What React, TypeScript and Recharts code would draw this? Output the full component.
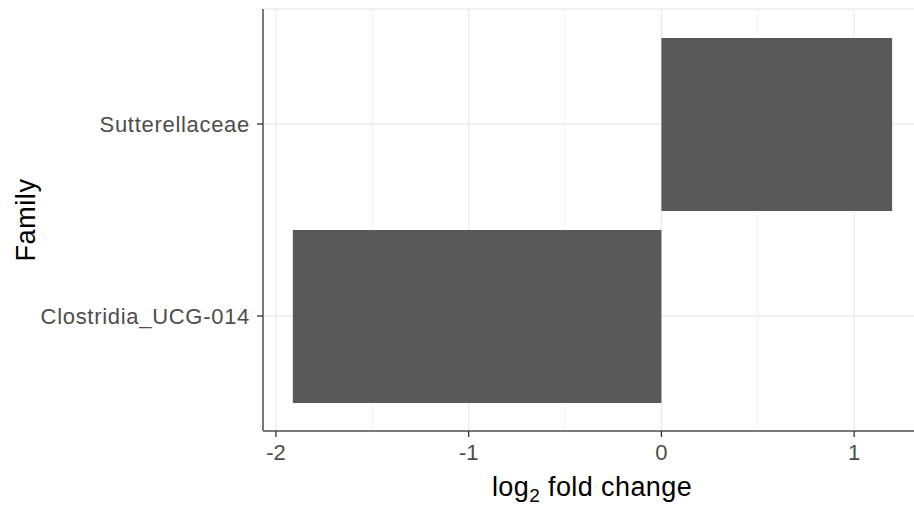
import { BarChart, Bar, XAxis, YAxis, CartesianGrid } from "recharts";

const families = ["Sutterellaceae", "Clostridia_UCG-014"];
const log2FoldChange = [1.197, -1.912];
const xTicks = [-2, -1, 0, 1];
const minorTicks = [-1.5, -0.5, 0.5];

const data = families.map((name, i) => ({ name, value: log2FoldChange[i] }));

const FONT = "'Liberation Sans', Arial, Helvetica, sans-serif";

function XTitle(props: any) {
  const { viewBox } = props;
  const cx = viewBox.x + 329;
  return (
    <text
      x={cx}
      y={496}
      textAnchor="middle"
      fill="#000"
      fontSize={27}
      letterSpacing={0.4}
      fontFamily={FONT}
    >
      log
      <tspan dy={6} fontSize={19}>
        2
      </tspan>
      <tspan dy={-6}> fold change</tspan>
    </text>
  );
}

function YTitle() {
  return (
    <text
      x={35}
      y={220}
      transform="rotate(-90 35 220)"
      textAnchor="middle"
      fill="#000"
      fontSize={27}
      letterSpacing={0.6}
      fontFamily={FONT}
    >
      Family
    </text>
  );
}

export default function App() {
  return (
    <div
      style={{
        position: "absolute",
        left: 0,
        top: 0,
        width: 914,
        height: 505,
        overflow: "hidden",
        background: "#fff",
        fontFamily: FONT,
      }}
    >
      <BarChart
        width={940}
        height={505}
        data={data}
        layout="vertical"
        margin={{ top: 9, right: 18, bottom: 0, left: 0 }}
      >
        <CartesianGrid
          stroke="#EBEBEB"
          strokeWidth={0.7}
          horizontal={false}
          verticalValues={minorTicks}
        />
        <CartesianGrid stroke="#EBEBEB" strokeWidth={1.3} />
        <XAxis
          type="number"
          dataKey="value"
          domain={[-2.067, 1.352]}
          ticks={xTicks}
          allowDataOverflow
          height={74}
          tick={{ fill: "#4D4D4D", fontSize: 22, fontFamily: FONT, dy: 5 }}
          tickLine={{ stroke: "#333", strokeWidth: 1.3 }}
          tickSize={6}
          axisLine={{ stroke: "#7a7a7a", strokeWidth: 2 }}
          label={<XTitle />}
        />
        <XAxis
          xAxisId="top"
          orientation="top"
          type="number"
          domain={[-2.067, 1.352]}
          height={0}
          tick={false}
          tickLine={false}
          axisLine={{ stroke: "#7a7a7a", strokeWidth: 2 }}
        />
        <YAxis
          type="category"
          dataKey="name"
          width={263}
          padding={{ top: 19, bottom: 19 }}
          tick={{ fill: "#4D4D4D", fontSize: 22, letterSpacing: 0.7, fontFamily: FONT, dx: -5 }}
          tickLine={{ stroke: "#333", strokeWidth: 1.3 }}
          tickSize={6}
          axisLine={{ stroke: "#7a7a7a", strokeWidth: 2 }}
          label={<YTitle />}
        />
        <Bar dataKey="value" fill="#595959" barSize={173} isAnimationActive={false} />
      </BarChart>
    </div>
  );
}
